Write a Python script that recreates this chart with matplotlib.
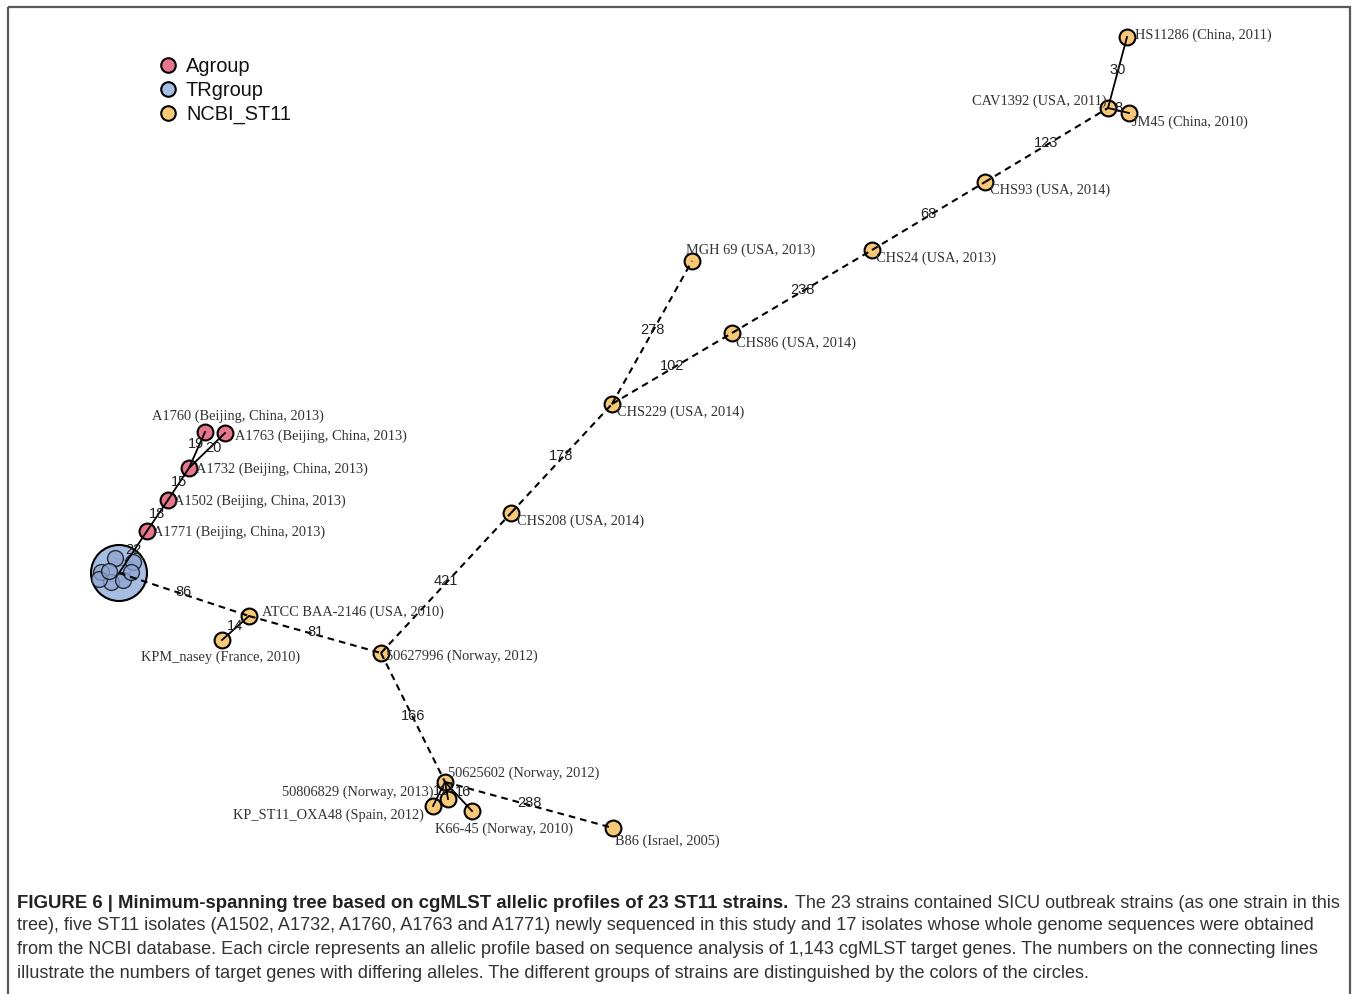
import matplotlib
matplotlib.use("Agg")
import matplotlib.pyplot as plt
from matplotlib.patches import Rectangle, Circle

# ---------------- data ----------------
names = ["SICU", "A1771", "A1502", "A1732", "A1760", "A1763",
         "ATCC BAA-2146", "KPM_nasey", "50627996", "CHS208", "CHS229",
         "MGH 69", "CHS86", "CHS24", "CHS93", "CAV1392", "JM45", "HS11286",
         "50625602", "50806829", "KP_ST11_OXA48", "K66-45", "B86"]
origins = ["", "Beijing, China, 2013", "Beijing, China, 2013", "Beijing, China, 2013",
           "Beijing, China, 2013", "Beijing, China, 2013",
           "USA, 2010", "France, 2010", "Norway, 2012", "USA, 2014", "USA, 2014",
           "USA, 2013", "USA, 2014", "USA, 2013", "USA, 2014", "USA, 2011",
           "China, 2010", "China, 2011",
           "Norway, 2012", "Norway, 2013", "Spain, 2012", "Norway, 2010", "Israel, 2005"]
groups = ["TRgroup", "Agroup", "Agroup", "Agroup", "Agroup", "Agroup"] + ["NCBI_ST11"] * 17
# layout coordinates of the spanning tree
node_x = [119, 147, 168, 189, 205, 225, 249, 222, 381, 511, 612, 692, 732, 872, 985,
          1108, 1129, 1127, 445, 448, 433, 472, 613]
node_y = [574, 532, 501, 469, 433, 434, 617, 641, 654, 514, 405, 262, 334, 251, 183,
          109, 114, 38, 783, 800, 807, 812, 829]

edge_src = ["SICU", "A1771", "A1502", "A1732", "A1732", "SICU", "ATCC BAA-2146",
            "ATCC BAA-2146", "50627996", "CHS208", "CHS229", "CHS229", "CHS86",
            "CHS24", "CHS93", "CAV1392", "CAV1392", "50627996", "50625602",
            "50625602", "50625602", "50625602"]
edge_dst = ["A1771", "A1502", "A1732", "A1760", "A1763", "ATCC BAA-2146", "KPM_nasey",
            "50627996", "CHS208", "CHS229", "MGH 69", "CHS86", "CHS24",
            "CHS93", "CAV1392", "HS11286", "JM45", "50625602", "B86",
            "KP_ST11_OXA48", "50806829", "K66-45"]
edge_dist = [22, 18, 15, 19, 20, 86, 14, 81, 421, 178, 278, 102, 238, 68, 123, 30, 8,
             166, 288, 11, 1, 16]

# members of the collapsed SICU (TRgroup) node, relative layout
tr_dx = [-4, 14, -18, -8, 4, 12, -20, -10]
tr_dy = [-15, -11, -1, 9, 7, -1, 6, -2]

group_names = ["Agroup", "TRgroup", "NCBI_ST11"]
group_colors = ["#E5768C", "#A8BDE2", "#F6C878"]

caption_bold = "FIGURE 6 | Minimum-spanning tree based on cgMLST allelic profiles of 23 ST11 strains."
caption_lines = [
    "The 23 strains contained SICU outbreak strains (as one strain in this",
    "tree), five ST11 isolates (A1502, A1732, A1760, A1763 and A1771) newly sequenced in this study and 17 isolates whose whole genome sequences were obtained",
    "from the NCBI database. Each circle represents an allelic profile based on sequence analysis of 1,143 cgMLST target genes. The numbers on the connecting lines",
    "illustrate the numbers of target genes with differing alleles. The different groups of strains are distinguished by the colors of the circles.",
]

# ---------------- label placement (style) ----------------
label_pos = {
    "A1771": (6, 0, "left", "center"),
    "A1502": (6, 0, "left", "center"),
    "A1732": (7, 0, "left", "center"),
    "A1760": (33, -17, "center", "center"),
    "A1763": (10, 2, "left", "center"),
    "ATCC BAA-2146": (13, -5, "left", "center"),
    "KPM_nasey": (-1, 16, "center", "center"),
    "50627996": (5, 2, "left", "center"),
    "CHS208": (6, 7, "left", "center"),
    "CHS229": (5, 7, "left", "center"),
    "MGH 69": (-6, -12, "left", "center"),
    "CHS86": (4, 9, "left", "center"),
    "CHS24": (4, 7, "left", "center"),
    "CHS93": (5, 7, "left", "center"),
    "CAV1392": (-1, -8, "right", "center"),
    "JM45": (3, 8, "left", "center"),
    "HS11286": (8, -3, "left", "center"),
    "50625602": (3, -10, "left", "center"),
    "50806829": (-15, -8, "right", "center"),
    "KP_ST11_OXA48": (-9, 8, "right", "center"),
    "K66-45": (32, 17, "center", "center"),
    "B86": (2, 12, "left", "center"),
}
# extra nudges of edge-distance labels (keyed by edge index)
edge_label_nudge = {3: (-1, -4), 4: (6, 0), 19: (1, -1), 20: (4, 0), 21: (4, -2)}

W, H = 1358, 995
fig = plt.figure(figsize=(W / 100, H / 100), dpi=100)
ax = fig.add_axes([0, 0, 1, 1])
ax.set_xlim(0, W)
ax.set_ylim(H, 0)
ax.axis("off")

# frame
ax.add_patch(Rectangle((7.5, 8), 1342.5, 990, fill=False, edgecolor="#5a5a5a",
                       linewidth=1.6, zorder=1))

pos = {n: (x, y) for n, x, y in zip(names, node_x, node_y)}
color_of = dict(zip(group_names, group_colors))

# collapsed TRgroup node: big circle with member circles
cx, cy = pos["SICU"]
ax.add_patch(Circle((cx, cy), 28, facecolor=color_of["TRgroup"], edgecolor="black",
                    linewidth=1.5, zorder=2))
mx = [cx + d for d in tr_dx]
my = [cy + d for d in tr_dy]
for i in range(len(mx) - 1):
    ax.plot([mx[i], mx[i + 1]], [my[i], my[i + 1]], color="#6d7f9e", lw=0.6, zorder=2.5)
ax.scatter(mx, my, s=130, facecolor="#8fa6d3", edgecolor="black", linewidth=1.0,
           alpha=0.75, zorder=3)

# other nodes
for n, x, y, g in zip(names, node_x, node_y, groups):
    if n == "SICU":
        continue
    ax.scatter([x], [y], s=130, facecolor=color_of[g], edgecolor="black",
               linewidth=1.5, zorder=4)

# edges
for k, (s, d, dist) in enumerate(zip(edge_src, edge_dst, edge_dist)):
    x0, y0 = pos[s]
    x1, y1 = pos[d]
    if dist > 50:
        ax.plot([x0, x1], [y0, y1], color="black", lw=1.5, ls=(0, (3.2, 2.4)),
                zorder=5, solid_capstyle="butt", dash_capstyle="butt")
    else:
        ax.plot([x0, x1], [y0, y1], color="black", lw=1.3, zorder=5)
    nx, ny = edge_label_nudge.get(k, (0, 0))
    ax.text((x0 + x1) / 2 + nx, (y0 + y1) / 2 - 3 + ny, str(dist), fontsize=10.5,
            family="Liberation Sans", color="#222222", ha="center", va="center",
            zorder=6)

# node labels
for n, o in zip(names, origins):
    if n not in label_pos:
        continue
    dx, dy, ha, va = label_pos[n]
    x, y = pos[n]
    ax.text(x + dx, y + dy, f"{n} ({o})", fontsize=10.4, family="Liberation Serif",
            color="#333333", ha=ha, va=va, zorder=7)

# legend
for i, (g, c) in enumerate(zip(group_names, group_colors)):
    ly = 66 + 24 * i
    ax.scatter([168], [ly], s=110, facecolor=c, edgecolor="black", linewidth=1.5,
               zorder=4)
    ax.text(186, ly, g, fontsize=14.4, family="Liberation Sans", color="#111111",
            ha="left", va="center")

# caption
fig.canvas.draw()
renderer = fig.canvas.get_renderer()
probe = ax.text(0, 0, caption_lines[1], fontsize=12, family="Liberation Sans")
w = probe.get_window_extent(renderer).width
probe.remove()
fs = 12 * 1305 / w

ax.text(17, 903, caption_bold, fontsize=fs * 1.024, family="Liberation Sans",
        weight="bold", color="#222222", ha="left", va="center")
ax.text(795, 903, caption_lines[0], fontsize=fs * 0.99, family="Liberation Sans",
        color="#333333", ha="left", va="center")
for i, line in enumerate(caption_lines[1:]):
    ax.text(17, 926 + 24 * i, line, fontsize=fs, family="Liberation Sans",
            color="#333333", ha="left", va="center")

fig.savefig("out.png", dpi=100)
